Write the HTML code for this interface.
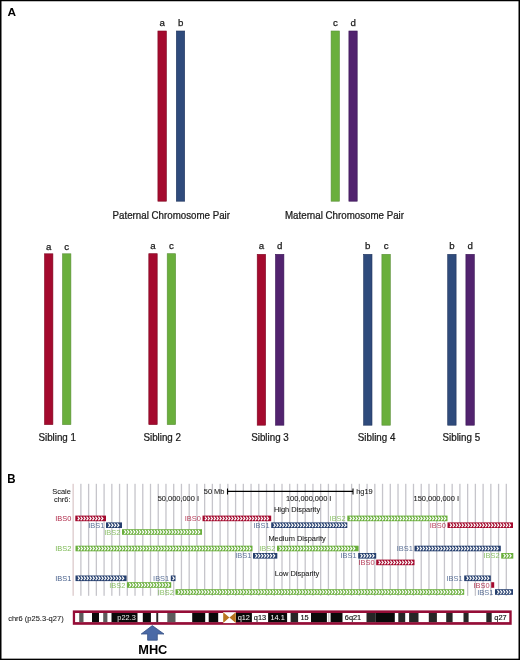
<!DOCTYPE html>
<html><head><meta charset="utf-8"><title>Figure</title>
<style>html,body{margin:0;padding:0;background:#fff;overflow:hidden}svg{display:block}text{font-family:"Liberation Sans",sans-serif}</style>
</head><body>
<svg width="520" height="660" viewBox="0 0 520 660">
<rect x="0" y="0" width="520" height="660" fill="#fff"/>
<rect x="0.75" y="0.5" width="518.5" height="658.9" fill="none" stroke="#000" stroke-width="1.5"/>
<text x="7.6" y="16.3" font-size="11.8" font-weight="bold" fill="#000">A</text>
<text x="7.3" y="482.6" font-size="12.2" font-weight="bold" fill="#000" textLength="8.3" lengthAdjust="spacingAndGlyphs">B</text>
<rect x="157.90" y="31.00" width="8.50" height="170.20" fill="#a40a2e" stroke="#7f0620" stroke-width="0.6"/>
<rect x="176.30" y="31.00" width="8.40" height="170.20" fill="#2f4b7c" stroke="#22365e" stroke-width="0.6"/>
<text x="162.3" y="25.9" font-size="9.7" text-anchor="middle" fill="#1a1a1a" stroke="#1a1a1a" stroke-width="0.25">a</text>
<text x="180.6" y="25.9" font-size="9.7" text-anchor="middle" fill="#1a1a1a" stroke="#1a1a1a" stroke-width="0.25">b</text>
<rect x="331.10" y="31.00" width="8.30" height="170.20" fill="#6aaf3c" stroke="#5a8f38" stroke-width="0.6"/>
<rect x="348.90" y="31.00" width="8.30" height="170.20" fill="#52236f" stroke="#3a1656" stroke-width="0.6"/>
<text x="335.3" y="25.9" font-size="9.7" text-anchor="middle" fill="#1a1a1a" stroke="#1a1a1a" stroke-width="0.25">c</text>
<text x="353.1" y="25.9" font-size="9.7" text-anchor="middle" fill="#1a1a1a" stroke="#1a1a1a" stroke-width="0.25">d</text>
<text transform="translate(171.3 218.6) scale(0.955 1)" font-size="10.2" text-anchor="middle" fill="#1a1a1a" stroke="#1a1a1a" stroke-width="0.25">Paternal Chromosome Pair</text>
<text transform="translate(344.5 218.6) scale(0.955 1)" font-size="10.2" text-anchor="middle" fill="#1a1a1a" stroke="#1a1a1a" stroke-width="0.25">Maternal Chromosome Pair</text>
<rect x="44.50" y="253.80" width="8.40" height="170.80" fill="#a40a2e" stroke="#7f0620" stroke-width="0.6"/>
<rect x="62.50" y="253.80" width="8.40" height="170.80" fill="#6aaf3c" stroke="#5a8f38" stroke-width="0.6"/>
<text x="48.7" y="249.5" font-size="9.7" text-anchor="middle" fill="#1a1a1a" stroke="#1a1a1a" stroke-width="0.25">a</text>
<text x="66.7" y="249.5" font-size="9.7" text-anchor="middle" fill="#1a1a1a" stroke="#1a1a1a" stroke-width="0.25">c</text>
<text transform="translate(57.2 441.4) scale(0.98 1)" font-size="10.0" text-anchor="middle" fill="#1a1a1a" stroke="#1a1a1a" stroke-width="0.25">Sibling 1</text>
<rect x="148.80" y="253.70" width="8.40" height="170.90" fill="#a40a2e" stroke="#7f0620" stroke-width="0.6"/>
<rect x="167.20" y="253.70" width="8.40" height="170.90" fill="#6aaf3c" stroke="#5a8f38" stroke-width="0.6"/>
<text x="153.0" y="249.3" font-size="9.7" text-anchor="middle" fill="#1a1a1a" stroke="#1a1a1a" stroke-width="0.25">a</text>
<text x="171.4" y="249.3" font-size="9.7" text-anchor="middle" fill="#1a1a1a" stroke="#1a1a1a" stroke-width="0.25">c</text>
<text transform="translate(162.2 441.4) scale(0.98 1)" font-size="10.0" text-anchor="middle" fill="#1a1a1a" stroke="#1a1a1a" stroke-width="0.25">Sibling 2</text>
<rect x="257.20" y="254.30" width="8.40" height="170.90" fill="#a40a2e" stroke="#7f0620" stroke-width="0.6"/>
<rect x="275.50" y="254.30" width="8.40" height="170.90" fill="#52236f" stroke="#3a1656" stroke-width="0.6"/>
<text x="261.4" y="249.2" font-size="9.7" text-anchor="middle" fill="#1a1a1a" stroke="#1a1a1a" stroke-width="0.25">a</text>
<text x="279.7" y="249.2" font-size="9.7" text-anchor="middle" fill="#1a1a1a" stroke="#1a1a1a" stroke-width="0.25">d</text>
<text transform="translate(270 441.4) scale(0.98 1)" font-size="10.0" text-anchor="middle" fill="#1a1a1a" stroke="#1a1a1a" stroke-width="0.25">Sibling 3</text>
<rect x="363.60" y="254.30" width="8.40" height="170.90" fill="#2f4b7c" stroke="#22365e" stroke-width="0.6"/>
<rect x="381.90" y="254.30" width="8.40" height="170.90" fill="#6aaf3c" stroke="#5a8f38" stroke-width="0.6"/>
<text x="367.8" y="249.2" font-size="9.7" text-anchor="middle" fill="#1a1a1a" stroke="#1a1a1a" stroke-width="0.25">b</text>
<text x="386.1" y="249.2" font-size="9.7" text-anchor="middle" fill="#1a1a1a" stroke="#1a1a1a" stroke-width="0.25">c</text>
<text transform="translate(376.6 441.4) scale(0.98 1)" font-size="10.0" text-anchor="middle" fill="#1a1a1a" stroke="#1a1a1a" stroke-width="0.25">Sibling 4</text>
<rect x="447.70" y="254.30" width="8.40" height="170.90" fill="#2f4b7c" stroke="#22365e" stroke-width="0.6"/>
<rect x="465.90" y="254.30" width="8.40" height="170.90" fill="#52236f" stroke="#3a1656" stroke-width="0.6"/>
<text x="451.9" y="249.2" font-size="9.7" text-anchor="middle" fill="#1a1a1a" stroke="#1a1a1a" stroke-width="0.25">b</text>
<text x="470.1" y="249.2" font-size="9.7" text-anchor="middle" fill="#1a1a1a" stroke="#1a1a1a" stroke-width="0.25">d</text>
<text transform="translate(461.3 441.4) scale(0.98 1)" font-size="10.0" text-anchor="middle" fill="#1a1a1a" stroke="#1a1a1a" stroke-width="0.25">Sibling 5</text>
<rect x="72.50" y="483.8" width="1.3" height="112" fill="#dccacb"/>
<rect x="80.23" y="483.8" width="1.3" height="112" fill="#c6c5cb"/>
<rect x="87.97" y="483.8" width="1.3" height="112" fill="#c6c5cb"/>
<rect x="95.70" y="483.8" width="1.3" height="112" fill="#c6c5cb"/>
<rect x="103.44" y="483.8" width="1.3" height="112" fill="#c6c5cb"/>
<rect x="111.18" y="483.8" width="1.3" height="112" fill="#c6c5cb"/>
<rect x="118.91" y="483.8" width="1.3" height="112" fill="#c6c5cb"/>
<rect x="126.65" y="483.8" width="1.3" height="112" fill="#c6c5cb"/>
<rect x="134.38" y="483.8" width="1.3" height="112" fill="#c6c5cb"/>
<rect x="142.12" y="483.8" width="1.3" height="112" fill="#c6c5cb"/>
<rect x="149.85" y="483.8" width="1.3" height="112" fill="#c6c5cb"/>
<rect x="157.59" y="483.8" width="1.3" height="112" fill="#c6c5cb"/>
<rect x="165.32" y="483.8" width="1.3" height="112" fill="#c6c5cb"/>
<rect x="173.06" y="483.8" width="1.3" height="112" fill="#c6c5cb"/>
<rect x="180.79" y="483.8" width="1.3" height="112" fill="#c6c5cb"/>
<rect x="188.53" y="483.8" width="1.3" height="112" fill="#c6c5cb"/>
<rect x="196.26" y="483.8" width="1.3" height="112" fill="#c6c5cb"/>
<rect x="204.00" y="483.8" width="1.3" height="112" fill="#c6c5cb"/>
<rect x="211.73" y="483.8" width="1.3" height="112" fill="#c6c5cb"/>
<rect x="219.47" y="483.8" width="1.3" height="112" fill="#c6c5cb"/>
<rect x="227.20" y="483.8" width="1.3" height="112" fill="#c6c5cb"/>
<rect x="234.94" y="483.8" width="1.3" height="112" fill="#c6c5cb"/>
<rect x="242.67" y="483.8" width="1.3" height="112" fill="#c6c5cb"/>
<rect x="250.41" y="483.8" width="1.3" height="112" fill="#c6c5cb"/>
<rect x="258.14" y="483.8" width="1.3" height="112" fill="#c6c5cb"/>
<rect x="265.88" y="483.8" width="1.3" height="112" fill="#c6c5cb"/>
<rect x="273.61" y="483.8" width="1.3" height="112" fill="#c6c5cb"/>
<rect x="281.35" y="483.8" width="1.3" height="112" fill="#c6c5cb"/>
<rect x="289.08" y="483.8" width="1.3" height="112" fill="#c6c5cb"/>
<rect x="296.82" y="483.8" width="1.3" height="112" fill="#c6c5cb"/>
<rect x="304.55" y="483.8" width="1.3" height="112" fill="#c6c5cb"/>
<rect x="312.29" y="483.8" width="1.3" height="112" fill="#c6c5cb"/>
<rect x="320.02" y="483.8" width="1.3" height="112" fill="#c6c5cb"/>
<rect x="327.76" y="483.8" width="1.3" height="112" fill="#c6c5cb"/>
<rect x="335.49" y="483.8" width="1.3" height="112" fill="#c6c5cb"/>
<rect x="343.23" y="483.8" width="1.3" height="112" fill="#c6c5cb"/>
<rect x="350.96" y="483.8" width="1.3" height="112" fill="#c6c5cb"/>
<rect x="358.70" y="483.8" width="1.3" height="112" fill="#c6c5cb"/>
<rect x="366.43" y="483.8" width="1.3" height="112" fill="#c6c5cb"/>
<rect x="374.17" y="483.8" width="1.3" height="112" fill="#c6c5cb"/>
<rect x="381.90" y="483.8" width="1.3" height="112" fill="#c6c5cb"/>
<rect x="389.63" y="483.8" width="1.3" height="112" fill="#c6c5cb"/>
<rect x="397.37" y="483.8" width="1.3" height="112" fill="#c6c5cb"/>
<rect x="405.11" y="483.8" width="1.3" height="112" fill="#c6c5cb"/>
<rect x="412.84" y="483.8" width="1.3" height="112" fill="#c6c5cb"/>
<rect x="420.58" y="483.8" width="1.3" height="112" fill="#c6c5cb"/>
<rect x="428.31" y="483.8" width="1.3" height="112" fill="#c6c5cb"/>
<rect x="436.05" y="483.8" width="1.3" height="112" fill="#c6c5cb"/>
<rect x="443.78" y="483.8" width="1.3" height="112" fill="#c6c5cb"/>
<rect x="451.52" y="483.8" width="1.3" height="112" fill="#c6c5cb"/>
<rect x="459.25" y="483.8" width="1.3" height="112" fill="#c6c5cb"/>
<rect x="466.99" y="483.8" width="1.3" height="112" fill="#c6c5cb"/>
<rect x="474.72" y="483.8" width="1.3" height="112" fill="#c6c5cb"/>
<rect x="482.46" y="483.8" width="1.3" height="112" fill="#c6c5cb"/>
<rect x="490.19" y="483.8" width="1.3" height="112" fill="#c6c5cb"/>
<rect x="497.93" y="483.8" width="1.3" height="112" fill="#c6c5cb"/>
<rect x="505.66" y="483.8" width="1.3" height="112" fill="#c6c5cb"/>
<text transform="translate(70.8 493.7) scale(0.943 1)" font-size="7.9" text-anchor="end" fill="#1a1a1a" stroke="#1a1a1a" stroke-width="0.08">Scale</text>
<text transform="translate(70.5 501.7) scale(0.943 1)" font-size="7.9" text-anchor="end" fill="#1a1a1a" stroke="#1a1a1a" stroke-width="0.08">chr6:</text>
<text transform="translate(224.4 493.5) scale(0.943 1)" font-size="7.9" text-anchor="end" fill="#1a1a1a" stroke="#1a1a1a" stroke-width="0.08">50 Mb</text>
<path d="M227.5 491.4H353M227.5 488.5V494.6M353 488.5V494.6" stroke="#000" stroke-width="1.1" fill="none"/>
<text transform="translate(356.2 493.5) scale(0.943 1)" font-size="7.9" text-anchor="start" fill="#1a1a1a" stroke="#1a1a1a" stroke-width="0.08">hg19</text>
<text transform="translate(199 501.4) scale(0.943 1)" font-size="7.9" text-anchor="end" fill="#1a1a1a" stroke="#1a1a1a" stroke-width="0.08">50,000,000 I</text>
<text transform="translate(331.4 501.2) scale(0.943 1)" font-size="7.9" text-anchor="end" fill="#1a1a1a" stroke="#1a1a1a" stroke-width="0.08">100,000,000 I</text>
<text transform="translate(459 501.2) scale(0.943 1)" font-size="7.9" text-anchor="end" fill="#1a1a1a" stroke="#1a1a1a" stroke-width="0.08">150,000,000 I</text>
<text transform="translate(297.0 511.7) scale(0.943 1)" font-size="7.9" text-anchor="middle" fill="#1a1a1a" stroke="#1a1a1a" stroke-width="0.08">High Disparity</text>
<text transform="translate(297.1 541.1) scale(0.943 1)" font-size="7.9" text-anchor="middle" fill="#1a1a1a" stroke="#1a1a1a" stroke-width="0.08">Medium Disparity</text>
<text transform="translate(297.0 576.0) scale(0.943 1)" font-size="7.9" text-anchor="middle" fill="#1a1a1a" stroke="#1a1a1a" stroke-width="0.08">Low Disparity</text>
<rect x="75.3" y="515.6" width="30.70" height="5.6" fill="#a40a2e"/>
<path d="M77.70 516.55l1.6 1.85l-1.6 1.85M80.65 516.55l1.6 1.85l-1.6 1.85M83.60 516.55l1.6 1.85l-1.6 1.85M86.55 516.55l1.6 1.85l-1.6 1.85M89.50 516.55l1.6 1.85l-1.6 1.85M92.45 516.55l1.6 1.85l-1.6 1.85M95.40 516.55l1.6 1.85l-1.6 1.85M98.35 516.55l1.6 1.85l-1.6 1.85M101.30 516.55l1.6 1.85l-1.6 1.85" stroke="#fff" stroke-width="1.2" fill="none"/>
<text transform="translate(71.4 521.0) scale(0.943 1)" font-size="7.9" text-anchor="end" fill="#a40a2e" opacity="0.88">IBS0</text>
<rect x="106" y="522.4" width="16.00" height="5.6" fill="#27406f"/>
<path d="M108.40 523.35l1.6 1.85l-1.6 1.85M111.35 523.35l1.6 1.85l-1.6 1.85M114.30 523.35l1.6 1.85l-1.6 1.85M117.25 523.35l1.6 1.85l-1.6 1.85" stroke="#fff" stroke-width="1.2" fill="none"/>
<text transform="translate(104.4 527.8) scale(0.943 1)" font-size="7.9" text-anchor="end" fill="#2f4b7c" opacity="0.78">IBS1</text>
<rect x="122" y="529.2" width="80.00" height="5.6" fill="#6aaf3c"/>
<path d="M124.40 530.15l1.6 1.85l-1.6 1.85M127.35 530.15l1.6 1.85l-1.6 1.85M130.30 530.15l1.6 1.85l-1.6 1.85M133.25 530.15l1.6 1.85l-1.6 1.85M136.20 530.15l1.6 1.85l-1.6 1.85M139.15 530.15l1.6 1.85l-1.6 1.85M142.10 530.15l1.6 1.85l-1.6 1.85M145.05 530.15l1.6 1.85l-1.6 1.85M148.00 530.15l1.6 1.85l-1.6 1.85M150.95 530.15l1.6 1.85l-1.6 1.85M153.90 530.15l1.6 1.85l-1.6 1.85M156.85 530.15l1.6 1.85l-1.6 1.85M159.80 530.15l1.6 1.85l-1.6 1.85M162.75 530.15l1.6 1.85l-1.6 1.85M165.70 530.15l1.6 1.85l-1.6 1.85M168.65 530.15l1.6 1.85l-1.6 1.85M171.60 530.15l1.6 1.85l-1.6 1.85M174.55 530.15l1.6 1.85l-1.6 1.85M177.50 530.15l1.6 1.85l-1.6 1.85M180.45 530.15l1.6 1.85l-1.6 1.85M183.40 530.15l1.6 1.85l-1.6 1.85M186.35 530.15l1.6 1.85l-1.6 1.85M189.30 530.15l1.6 1.85l-1.6 1.85M192.25 530.15l1.6 1.85l-1.6 1.85M195.20 530.15l1.6 1.85l-1.6 1.85M198.15 530.15l1.6 1.85l-1.6 1.85" stroke="#fff" stroke-width="1.2" fill="none"/>
<text transform="translate(120.4 534.6) scale(0.943 1)" font-size="7.9" text-anchor="end" fill="#6aaf3c" opacity="0.78">IBS2</text>
<rect x="202.5" y="515.6" width="68.70" height="5.6" fill="#a40a2e"/>
<path d="M204.90 516.55l1.6 1.85l-1.6 1.85M207.85 516.55l1.6 1.85l-1.6 1.85M210.80 516.55l1.6 1.85l-1.6 1.85M213.75 516.55l1.6 1.85l-1.6 1.85M216.70 516.55l1.6 1.85l-1.6 1.85M219.65 516.55l1.6 1.85l-1.6 1.85M222.60 516.55l1.6 1.85l-1.6 1.85M225.55 516.55l1.6 1.85l-1.6 1.85M228.50 516.55l1.6 1.85l-1.6 1.85M231.45 516.55l1.6 1.85l-1.6 1.85M234.40 516.55l1.6 1.85l-1.6 1.85M237.35 516.55l1.6 1.85l-1.6 1.85M240.30 516.55l1.6 1.85l-1.6 1.85M243.25 516.55l1.6 1.85l-1.6 1.85M246.20 516.55l1.6 1.85l-1.6 1.85M249.15 516.55l1.6 1.85l-1.6 1.85M252.10 516.55l1.6 1.85l-1.6 1.85M255.05 516.55l1.6 1.85l-1.6 1.85M258.00 516.55l1.6 1.85l-1.6 1.85M260.95 516.55l1.6 1.85l-1.6 1.85M263.90 516.55l1.6 1.85l-1.6 1.85M266.85 516.55l1.6 1.85l-1.6 1.85" stroke="#fff" stroke-width="1.2" fill="none"/>
<text transform="translate(200.9 521.0) scale(0.943 1)" font-size="7.9" text-anchor="end" fill="#a40a2e" opacity="0.78">IBS0</text>
<rect x="271.2" y="522.4" width="76.10" height="5.6" fill="#27406f"/>
<path d="M273.60 523.35l1.6 1.85l-1.6 1.85M276.55 523.35l1.6 1.85l-1.6 1.85M279.50 523.35l1.6 1.85l-1.6 1.85M282.45 523.35l1.6 1.85l-1.6 1.85M285.40 523.35l1.6 1.85l-1.6 1.85M288.35 523.35l1.6 1.85l-1.6 1.85M291.30 523.35l1.6 1.85l-1.6 1.85M294.25 523.35l1.6 1.85l-1.6 1.85M297.20 523.35l1.6 1.85l-1.6 1.85M300.15 523.35l1.6 1.85l-1.6 1.85M303.10 523.35l1.6 1.85l-1.6 1.85M306.05 523.35l1.6 1.85l-1.6 1.85M309.00 523.35l1.6 1.85l-1.6 1.85M311.95 523.35l1.6 1.85l-1.6 1.85M314.90 523.35l1.6 1.85l-1.6 1.85M317.85 523.35l1.6 1.85l-1.6 1.85M320.80 523.35l1.6 1.85l-1.6 1.85M323.75 523.35l1.6 1.85l-1.6 1.85M326.70 523.35l1.6 1.85l-1.6 1.85M329.65 523.35l1.6 1.85l-1.6 1.85M332.60 523.35l1.6 1.85l-1.6 1.85M335.55 523.35l1.6 1.85l-1.6 1.85M338.50 523.35l1.6 1.85l-1.6 1.85M341.45 523.35l1.6 1.85l-1.6 1.85M344.40 523.35l1.6 1.85l-1.6 1.85" stroke="#fff" stroke-width="1.2" fill="none"/>
<text transform="translate(269.59999999999997 527.8) scale(0.943 1)" font-size="7.9" text-anchor="end" fill="#2f4b7c" opacity="0.78">IBS1</text>
<rect x="347.3" y="515.6" width="100.20" height="5.6" fill="#6aaf3c"/>
<path d="M349.70 516.55l1.6 1.85l-1.6 1.85M352.65 516.55l1.6 1.85l-1.6 1.85M355.60 516.55l1.6 1.85l-1.6 1.85M358.55 516.55l1.6 1.85l-1.6 1.85M361.50 516.55l1.6 1.85l-1.6 1.85M364.45 516.55l1.6 1.85l-1.6 1.85M367.40 516.55l1.6 1.85l-1.6 1.85M370.35 516.55l1.6 1.85l-1.6 1.85M373.30 516.55l1.6 1.85l-1.6 1.85M376.25 516.55l1.6 1.85l-1.6 1.85M379.20 516.55l1.6 1.85l-1.6 1.85M382.15 516.55l1.6 1.85l-1.6 1.85M385.10 516.55l1.6 1.85l-1.6 1.85M388.05 516.55l1.6 1.85l-1.6 1.85M391.00 516.55l1.6 1.85l-1.6 1.85M393.95 516.55l1.6 1.85l-1.6 1.85M396.90 516.55l1.6 1.85l-1.6 1.85M399.85 516.55l1.6 1.85l-1.6 1.85M402.80 516.55l1.6 1.85l-1.6 1.85M405.75 516.55l1.6 1.85l-1.6 1.85M408.70 516.55l1.6 1.85l-1.6 1.85M411.65 516.55l1.6 1.85l-1.6 1.85M414.60 516.55l1.6 1.85l-1.6 1.85M417.55 516.55l1.6 1.85l-1.6 1.85M420.50 516.55l1.6 1.85l-1.6 1.85M423.45 516.55l1.6 1.85l-1.6 1.85M426.40 516.55l1.6 1.85l-1.6 1.85M429.35 516.55l1.6 1.85l-1.6 1.85M432.30 516.55l1.6 1.85l-1.6 1.85M435.25 516.55l1.6 1.85l-1.6 1.85M438.20 516.55l1.6 1.85l-1.6 1.85M441.15 516.55l1.6 1.85l-1.6 1.85M444.10 516.55l1.6 1.85l-1.6 1.85" stroke="#fff" stroke-width="1.2" fill="none"/>
<text transform="translate(345.7 521.0) scale(0.943 1)" font-size="7.9" text-anchor="end" fill="#6aaf3c" opacity="0.78">IBS2</text>
<rect x="447.5" y="522.4" width="65.50" height="5.6" fill="#a40a2e"/>
<path d="M449.90 523.35l1.6 1.85l-1.6 1.85M452.85 523.35l1.6 1.85l-1.6 1.85M455.80 523.35l1.6 1.85l-1.6 1.85M458.75 523.35l1.6 1.85l-1.6 1.85M461.70 523.35l1.6 1.85l-1.6 1.85M464.65 523.35l1.6 1.85l-1.6 1.85M467.60 523.35l1.6 1.85l-1.6 1.85M470.55 523.35l1.6 1.85l-1.6 1.85M473.50 523.35l1.6 1.85l-1.6 1.85M476.45 523.35l1.6 1.85l-1.6 1.85M479.40 523.35l1.6 1.85l-1.6 1.85M482.35 523.35l1.6 1.85l-1.6 1.85M485.30 523.35l1.6 1.85l-1.6 1.85M488.25 523.35l1.6 1.85l-1.6 1.85M491.20 523.35l1.6 1.85l-1.6 1.85M494.15 523.35l1.6 1.85l-1.6 1.85M497.10 523.35l1.6 1.85l-1.6 1.85M500.05 523.35l1.6 1.85l-1.6 1.85M503.00 523.35l1.6 1.85l-1.6 1.85M505.95 523.35l1.6 1.85l-1.6 1.85M508.90 523.35l1.6 1.85l-1.6 1.85" stroke="#fff" stroke-width="1.2" fill="none"/>
<text transform="translate(445.9 527.8) scale(0.943 1)" font-size="7.9" text-anchor="end" fill="#a40a2e" opacity="0.78">IBS0</text>
<rect x="75.5" y="545.7" width="177.00" height="5.6" fill="#6aaf3c"/>
<path d="M77.90 546.65l1.6 1.85l-1.6 1.85M80.85 546.65l1.6 1.85l-1.6 1.85M83.80 546.65l1.6 1.85l-1.6 1.85M86.75 546.65l1.6 1.85l-1.6 1.85M89.70 546.65l1.6 1.85l-1.6 1.85M92.65 546.65l1.6 1.85l-1.6 1.85M95.60 546.65l1.6 1.85l-1.6 1.85M98.55 546.65l1.6 1.85l-1.6 1.85M101.50 546.65l1.6 1.85l-1.6 1.85M104.45 546.65l1.6 1.85l-1.6 1.85M107.40 546.65l1.6 1.85l-1.6 1.85M110.35 546.65l1.6 1.85l-1.6 1.85M113.30 546.65l1.6 1.85l-1.6 1.85M116.25 546.65l1.6 1.85l-1.6 1.85M119.20 546.65l1.6 1.85l-1.6 1.85M122.15 546.65l1.6 1.85l-1.6 1.85M125.10 546.65l1.6 1.85l-1.6 1.85M128.05 546.65l1.6 1.85l-1.6 1.85M131.00 546.65l1.6 1.85l-1.6 1.85M133.95 546.65l1.6 1.85l-1.6 1.85M136.90 546.65l1.6 1.85l-1.6 1.85M139.85 546.65l1.6 1.85l-1.6 1.85M142.80 546.65l1.6 1.85l-1.6 1.85M145.75 546.65l1.6 1.85l-1.6 1.85M148.70 546.65l1.6 1.85l-1.6 1.85M151.65 546.65l1.6 1.85l-1.6 1.85M154.60 546.65l1.6 1.85l-1.6 1.85M157.55 546.65l1.6 1.85l-1.6 1.85M160.50 546.65l1.6 1.85l-1.6 1.85M163.45 546.65l1.6 1.85l-1.6 1.85M166.40 546.65l1.6 1.85l-1.6 1.85M169.35 546.65l1.6 1.85l-1.6 1.85M172.30 546.65l1.6 1.85l-1.6 1.85M175.25 546.65l1.6 1.85l-1.6 1.85M178.20 546.65l1.6 1.85l-1.6 1.85M181.15 546.65l1.6 1.85l-1.6 1.85M184.10 546.65l1.6 1.85l-1.6 1.85M187.05 546.65l1.6 1.85l-1.6 1.85M190.00 546.65l1.6 1.85l-1.6 1.85M192.95 546.65l1.6 1.85l-1.6 1.85M195.90 546.65l1.6 1.85l-1.6 1.85M198.85 546.65l1.6 1.85l-1.6 1.85M201.80 546.65l1.6 1.85l-1.6 1.85M204.75 546.65l1.6 1.85l-1.6 1.85M207.70 546.65l1.6 1.85l-1.6 1.85M210.65 546.65l1.6 1.85l-1.6 1.85M213.60 546.65l1.6 1.85l-1.6 1.85M216.55 546.65l1.6 1.85l-1.6 1.85M219.50 546.65l1.6 1.85l-1.6 1.85M222.45 546.65l1.6 1.85l-1.6 1.85M225.40 546.65l1.6 1.85l-1.6 1.85M228.35 546.65l1.6 1.85l-1.6 1.85M231.30 546.65l1.6 1.85l-1.6 1.85M234.25 546.65l1.6 1.85l-1.6 1.85M237.20 546.65l1.6 1.85l-1.6 1.85M240.15 546.65l1.6 1.85l-1.6 1.85M243.10 546.65l1.6 1.85l-1.6 1.85M246.05 546.65l1.6 1.85l-1.6 1.85M249.00 546.65l1.6 1.85l-1.6 1.85" stroke="#fff" stroke-width="1.2" fill="none"/>
<text transform="translate(71.4 551.1) scale(0.943 1)" font-size="7.9" text-anchor="end" fill="#6aaf3c" opacity="0.88">IBS2</text>
<rect x="253" y="553" width="24.30" height="5.6" fill="#27406f"/>
<path d="M255.40 553.95l1.6 1.85l-1.6 1.85M258.35 553.95l1.6 1.85l-1.6 1.85M261.30 553.95l1.6 1.85l-1.6 1.85M264.25 553.95l1.6 1.85l-1.6 1.85M267.20 553.95l1.6 1.85l-1.6 1.85M270.15 553.95l1.6 1.85l-1.6 1.85M273.10 553.95l1.6 1.85l-1.6 1.85" stroke="#fff" stroke-width="1.2" fill="none"/>
<text transform="translate(251.4 558.4) scale(0.943 1)" font-size="7.9" text-anchor="end" fill="#2f4b7c" opacity="0.78">IBS1</text>
<rect x="277" y="545.7" width="81.60" height="5.6" fill="#6aaf3c"/>
<path d="M279.40 546.65l1.6 1.85l-1.6 1.85M282.35 546.65l1.6 1.85l-1.6 1.85M285.30 546.65l1.6 1.85l-1.6 1.85M288.25 546.65l1.6 1.85l-1.6 1.85M291.20 546.65l1.6 1.85l-1.6 1.85M294.15 546.65l1.6 1.85l-1.6 1.85M297.10 546.65l1.6 1.85l-1.6 1.85M300.05 546.65l1.6 1.85l-1.6 1.85M303.00 546.65l1.6 1.85l-1.6 1.85M305.95 546.65l1.6 1.85l-1.6 1.85M308.90 546.65l1.6 1.85l-1.6 1.85M311.85 546.65l1.6 1.85l-1.6 1.85M314.80 546.65l1.6 1.85l-1.6 1.85M317.75 546.65l1.6 1.85l-1.6 1.85M320.70 546.65l1.6 1.85l-1.6 1.85M323.65 546.65l1.6 1.85l-1.6 1.85M326.60 546.65l1.6 1.85l-1.6 1.85M329.55 546.65l1.6 1.85l-1.6 1.85M332.50 546.65l1.6 1.85l-1.6 1.85M335.45 546.65l1.6 1.85l-1.6 1.85M338.40 546.65l1.6 1.85l-1.6 1.85M341.35 546.65l1.6 1.85l-1.6 1.85M344.30 546.65l1.6 1.85l-1.6 1.85M347.25 546.65l1.6 1.85l-1.6 1.85M350.20 546.65l1.6 1.85l-1.6 1.85M353.15 546.65l1.6 1.85l-1.6 1.85" stroke="#fff" stroke-width="1.2" fill="none"/>
<text transform="translate(275.4 551.1) scale(0.943 1)" font-size="7.9" text-anchor="end" fill="#6aaf3c" opacity="0.78">IBS2</text>
<rect x="358.2" y="553" width="18.00" height="5.6" fill="#27406f"/>
<path d="M360.60 553.95l1.6 1.85l-1.6 1.85M363.55 553.95l1.6 1.85l-1.6 1.85M366.50 553.95l1.6 1.85l-1.6 1.85M369.45 553.95l1.6 1.85l-1.6 1.85M372.40 553.95l1.6 1.85l-1.6 1.85" stroke="#fff" stroke-width="1.2" fill="none"/>
<text transform="translate(356.59999999999997 558.4) scale(0.943 1)" font-size="7.9" text-anchor="end" fill="#2f4b7c" opacity="0.78">IBS1</text>
<rect x="376.2" y="559.6" width="38.30" height="5.6" fill="#a40a2e"/>
<path d="M378.60 560.55l1.6 1.85l-1.6 1.85M381.55 560.55l1.6 1.85l-1.6 1.85M384.50 560.55l1.6 1.85l-1.6 1.85M387.45 560.55l1.6 1.85l-1.6 1.85M390.40 560.55l1.6 1.85l-1.6 1.85M393.35 560.55l1.6 1.85l-1.6 1.85M396.30 560.55l1.6 1.85l-1.6 1.85M399.25 560.55l1.6 1.85l-1.6 1.85M402.20 560.55l1.6 1.85l-1.6 1.85M405.15 560.55l1.6 1.85l-1.6 1.85M408.10 560.55l1.6 1.85l-1.6 1.85M411.05 560.55l1.6 1.85l-1.6 1.85" stroke="#fff" stroke-width="1.2" fill="none"/>
<text transform="translate(374.59999999999997 565.0) scale(0.943 1)" font-size="7.9" text-anchor="end" fill="#a40a2e" opacity="0.78">IBS0</text>
<rect x="414.5" y="545.7" width="86.30" height="5.6" fill="#27406f"/>
<path d="M416.90 546.65l1.6 1.85l-1.6 1.85M419.85 546.65l1.6 1.85l-1.6 1.85M422.80 546.65l1.6 1.85l-1.6 1.85M425.75 546.65l1.6 1.85l-1.6 1.85M428.70 546.65l1.6 1.85l-1.6 1.85M431.65 546.65l1.6 1.85l-1.6 1.85M434.60 546.65l1.6 1.85l-1.6 1.85M437.55 546.65l1.6 1.85l-1.6 1.85M440.50 546.65l1.6 1.85l-1.6 1.85M443.45 546.65l1.6 1.85l-1.6 1.85M446.40 546.65l1.6 1.85l-1.6 1.85M449.35 546.65l1.6 1.85l-1.6 1.85M452.30 546.65l1.6 1.85l-1.6 1.85M455.25 546.65l1.6 1.85l-1.6 1.85M458.20 546.65l1.6 1.85l-1.6 1.85M461.15 546.65l1.6 1.85l-1.6 1.85M464.10 546.65l1.6 1.85l-1.6 1.85M467.05 546.65l1.6 1.85l-1.6 1.85M470.00 546.65l1.6 1.85l-1.6 1.85M472.95 546.65l1.6 1.85l-1.6 1.85M475.90 546.65l1.6 1.85l-1.6 1.85M478.85 546.65l1.6 1.85l-1.6 1.85M481.80 546.65l1.6 1.85l-1.6 1.85M484.75 546.65l1.6 1.85l-1.6 1.85M487.70 546.65l1.6 1.85l-1.6 1.85M490.65 546.65l1.6 1.85l-1.6 1.85M493.60 546.65l1.6 1.85l-1.6 1.85M496.55 546.65l1.6 1.85l-1.6 1.85" stroke="#fff" stroke-width="1.2" fill="none"/>
<text transform="translate(412.9 551.1) scale(0.943 1)" font-size="7.9" text-anchor="end" fill="#2f4b7c" opacity="0.78">IBS1</text>
<rect x="501.2" y="553" width="12.10" height="5.6" fill="#6aaf3c"/>
<path d="M503.60 553.95l1.6 1.85l-1.6 1.85M506.55 553.95l1.6 1.85l-1.6 1.85M509.50 553.95l1.6 1.85l-1.6 1.85" stroke="#fff" stroke-width="1.2" fill="none"/>
<text transform="translate(499.59999999999997 558.4) scale(0.943 1)" font-size="7.9" text-anchor="end" fill="#6aaf3c" opacity="0.78">IBS2</text>
<rect x="75.5" y="575.5" width="51.10" height="5.6" fill="#27406f"/>
<path d="M77.90 576.45l1.6 1.85l-1.6 1.85M80.85 576.45l1.6 1.85l-1.6 1.85M83.80 576.45l1.6 1.85l-1.6 1.85M86.75 576.45l1.6 1.85l-1.6 1.85M89.70 576.45l1.6 1.85l-1.6 1.85M92.65 576.45l1.6 1.85l-1.6 1.85M95.60 576.45l1.6 1.85l-1.6 1.85M98.55 576.45l1.6 1.85l-1.6 1.85M101.50 576.45l1.6 1.85l-1.6 1.85M104.45 576.45l1.6 1.85l-1.6 1.85M107.40 576.45l1.6 1.85l-1.6 1.85M110.35 576.45l1.6 1.85l-1.6 1.85M113.30 576.45l1.6 1.85l-1.6 1.85M116.25 576.45l1.6 1.85l-1.6 1.85M119.20 576.45l1.6 1.85l-1.6 1.85M122.15 576.45l1.6 1.85l-1.6 1.85" stroke="#fff" stroke-width="1.2" fill="none"/>
<text transform="translate(71.4 580.9) scale(0.943 1)" font-size="7.9" text-anchor="end" fill="#2f4b7c" opacity="0.88">IBS1</text>
<rect x="127" y="582.2" width="44.20" height="5.6" fill="#6aaf3c"/>
<path d="M129.40 583.15l1.6 1.85l-1.6 1.85M132.35 583.15l1.6 1.85l-1.6 1.85M135.30 583.15l1.6 1.85l-1.6 1.85M138.25 583.15l1.6 1.85l-1.6 1.85M141.20 583.15l1.6 1.85l-1.6 1.85M144.15 583.15l1.6 1.85l-1.6 1.85M147.10 583.15l1.6 1.85l-1.6 1.85M150.05 583.15l1.6 1.85l-1.6 1.85M153.00 583.15l1.6 1.85l-1.6 1.85M155.95 583.15l1.6 1.85l-1.6 1.85M158.90 583.15l1.6 1.85l-1.6 1.85M161.85 583.15l1.6 1.85l-1.6 1.85M164.80 583.15l1.6 1.85l-1.6 1.85M167.75 583.15l1.6 1.85l-1.6 1.85" stroke="#fff" stroke-width="1.2" fill="none"/>
<text transform="translate(125.4 587.6) scale(0.943 1)" font-size="7.9" text-anchor="end" fill="#6aaf3c" opacity="0.78">IBS2</text>
<rect x="170.8" y="575.5" width="4.70" height="5.6" fill="#27406f"/>
<path d="M172.55 576.45l1.6 1.85l-1.6 1.85" stroke="#fff" stroke-width="1.2" fill="none"/>
<text transform="translate(169.20000000000002 580.9) scale(0.943 1)" font-size="7.9" text-anchor="end" fill="#2f4b7c" opacity="0.78">IBS1</text>
<rect x="175.5" y="589.2" width="288.70" height="5.6" fill="#6aaf3c"/>
<path d="M177.90 590.15l1.6 1.85l-1.6 1.85M180.85 590.15l1.6 1.85l-1.6 1.85M183.80 590.15l1.6 1.85l-1.6 1.85M186.75 590.15l1.6 1.85l-1.6 1.85M189.70 590.15l1.6 1.85l-1.6 1.85M192.65 590.15l1.6 1.85l-1.6 1.85M195.60 590.15l1.6 1.85l-1.6 1.85M198.55 590.15l1.6 1.85l-1.6 1.85M201.50 590.15l1.6 1.85l-1.6 1.85M204.45 590.15l1.6 1.85l-1.6 1.85M207.40 590.15l1.6 1.85l-1.6 1.85M210.35 590.15l1.6 1.85l-1.6 1.85M213.30 590.15l1.6 1.85l-1.6 1.85M216.25 590.15l1.6 1.85l-1.6 1.85M219.20 590.15l1.6 1.85l-1.6 1.85M222.15 590.15l1.6 1.85l-1.6 1.85M225.10 590.15l1.6 1.85l-1.6 1.85M228.05 590.15l1.6 1.85l-1.6 1.85M231.00 590.15l1.6 1.85l-1.6 1.85M233.95 590.15l1.6 1.85l-1.6 1.85M236.90 590.15l1.6 1.85l-1.6 1.85M239.85 590.15l1.6 1.85l-1.6 1.85M242.80 590.15l1.6 1.85l-1.6 1.85M245.75 590.15l1.6 1.85l-1.6 1.85M248.70 590.15l1.6 1.85l-1.6 1.85M251.65 590.15l1.6 1.85l-1.6 1.85M254.60 590.15l1.6 1.85l-1.6 1.85M257.55 590.15l1.6 1.85l-1.6 1.85M260.50 590.15l1.6 1.85l-1.6 1.85M263.45 590.15l1.6 1.85l-1.6 1.85M266.40 590.15l1.6 1.85l-1.6 1.85M269.35 590.15l1.6 1.85l-1.6 1.85M272.30 590.15l1.6 1.85l-1.6 1.85M275.25 590.15l1.6 1.85l-1.6 1.85M278.20 590.15l1.6 1.85l-1.6 1.85M281.15 590.15l1.6 1.85l-1.6 1.85M284.10 590.15l1.6 1.85l-1.6 1.85M287.05 590.15l1.6 1.85l-1.6 1.85M290.00 590.15l1.6 1.85l-1.6 1.85M292.95 590.15l1.6 1.85l-1.6 1.85M295.90 590.15l1.6 1.85l-1.6 1.85M298.85 590.15l1.6 1.85l-1.6 1.85M301.80 590.15l1.6 1.85l-1.6 1.85M304.75 590.15l1.6 1.85l-1.6 1.85M307.70 590.15l1.6 1.85l-1.6 1.85M310.65 590.15l1.6 1.85l-1.6 1.85M313.60 590.15l1.6 1.85l-1.6 1.85M316.55 590.15l1.6 1.85l-1.6 1.85M319.50 590.15l1.6 1.85l-1.6 1.85M322.45 590.15l1.6 1.85l-1.6 1.85M325.40 590.15l1.6 1.85l-1.6 1.85M328.35 590.15l1.6 1.85l-1.6 1.85M331.30 590.15l1.6 1.85l-1.6 1.85M334.25 590.15l1.6 1.85l-1.6 1.85M337.20 590.15l1.6 1.85l-1.6 1.85M340.15 590.15l1.6 1.85l-1.6 1.85M343.10 590.15l1.6 1.85l-1.6 1.85M346.05 590.15l1.6 1.85l-1.6 1.85M349.00 590.15l1.6 1.85l-1.6 1.85M351.95 590.15l1.6 1.85l-1.6 1.85M354.90 590.15l1.6 1.85l-1.6 1.85M357.85 590.15l1.6 1.85l-1.6 1.85M360.80 590.15l1.6 1.85l-1.6 1.85M363.75 590.15l1.6 1.85l-1.6 1.85M366.70 590.15l1.6 1.85l-1.6 1.85M369.65 590.15l1.6 1.85l-1.6 1.85M372.60 590.15l1.6 1.85l-1.6 1.85M375.55 590.15l1.6 1.85l-1.6 1.85M378.50 590.15l1.6 1.85l-1.6 1.85M381.45 590.15l1.6 1.85l-1.6 1.85M384.40 590.15l1.6 1.85l-1.6 1.85M387.35 590.15l1.6 1.85l-1.6 1.85M390.30 590.15l1.6 1.85l-1.6 1.85M393.25 590.15l1.6 1.85l-1.6 1.85M396.20 590.15l1.6 1.85l-1.6 1.85M399.15 590.15l1.6 1.85l-1.6 1.85M402.10 590.15l1.6 1.85l-1.6 1.85M405.05 590.15l1.6 1.85l-1.6 1.85M408.00 590.15l1.6 1.85l-1.6 1.85M410.95 590.15l1.6 1.85l-1.6 1.85M413.90 590.15l1.6 1.85l-1.6 1.85M416.85 590.15l1.6 1.85l-1.6 1.85M419.80 590.15l1.6 1.85l-1.6 1.85M422.75 590.15l1.6 1.85l-1.6 1.85M425.70 590.15l1.6 1.85l-1.6 1.85M428.65 590.15l1.6 1.85l-1.6 1.85M431.60 590.15l1.6 1.85l-1.6 1.85M434.55 590.15l1.6 1.85l-1.6 1.85M437.50 590.15l1.6 1.85l-1.6 1.85M440.45 590.15l1.6 1.85l-1.6 1.85M443.40 590.15l1.6 1.85l-1.6 1.85M446.35 590.15l1.6 1.85l-1.6 1.85M449.30 590.15l1.6 1.85l-1.6 1.85M452.25 590.15l1.6 1.85l-1.6 1.85M455.20 590.15l1.6 1.85l-1.6 1.85M458.15 590.15l1.6 1.85l-1.6 1.85M461.10 590.15l1.6 1.85l-1.6 1.85" stroke="#fff" stroke-width="1.2" fill="none"/>
<text transform="translate(173.9 594.6) scale(0.943 1)" font-size="7.9" text-anchor="end" fill="#6aaf3c" opacity="0.78">IBS2</text>
<rect x="464.2" y="575.5" width="26.60" height="5.6" fill="#27406f"/>
<path d="M466.60 576.45l1.6 1.85l-1.6 1.85M469.55 576.45l1.6 1.85l-1.6 1.85M472.50 576.45l1.6 1.85l-1.6 1.85M475.45 576.45l1.6 1.85l-1.6 1.85M478.40 576.45l1.6 1.85l-1.6 1.85M481.35 576.45l1.6 1.85l-1.6 1.85M484.30 576.45l1.6 1.85l-1.6 1.85M487.25 576.45l1.6 1.85l-1.6 1.85" stroke="#fff" stroke-width="1.2" fill="none"/>
<text transform="translate(462.59999999999997 580.9) scale(0.943 1)" font-size="7.9" text-anchor="end" fill="#2f4b7c" opacity="0.78">IBS1</text>
<rect x="491.2" y="582.2" width="3.00" height="5.6" fill="#a40a2e"/>
<text transform="translate(489.59999999999997 587.6) scale(0.943 1)" font-size="7.9" text-anchor="end" fill="#a40a2e" opacity="0.78">IBS0</text>
<rect x="495" y="589.2" width="18.00" height="5.6" fill="#27406f"/>
<path d="M497.40 590.15l1.6 1.85l-1.6 1.85M500.35 590.15l1.6 1.85l-1.6 1.85M503.30 590.15l1.6 1.85l-1.6 1.85M506.25 590.15l1.6 1.85l-1.6 1.85M509.20 590.15l1.6 1.85l-1.6 1.85" stroke="#fff" stroke-width="1.2" fill="none"/>
<text transform="translate(493.4 594.6) scale(0.943 1)" font-size="7.9" text-anchor="end" fill="#2f4b7c" opacity="0.78">IBS1</text>
<text x="8.2" y="620.8" font-size="7.5" text-anchor="start" fill="#1a1a1a" stroke="#1a1a1a" stroke-width="0.08">chr6 (p25.3-q27)</text>
<rect x="72.8" y="610.4" width="438.9" height="14.4" fill="#950d37"/>
<rect x="75.1" y="613.0" width="434.2" height="9.1" fill="#fff"/>
<rect x="79.2" y="613.0" width="4.30" height="9.1" fill="#5c5c5c"/>
<rect x="92" y="613.0" width="7.00" height="9.1" fill="#0a0a0a"/>
<rect x="103.2" y="613.0" width="4.20" height="9.1" fill="#5c5c5c"/>
<rect x="111.5" y="613.0" width="26.00" height="9.1" fill="#0a0a0a"/>
<rect x="142.8" y="613.0" width="8.10" height="9.1" fill="#0a0a0a"/>
<rect x="156.3" y="613.0" width="1.90" height="9.1" fill="#262626"/>
<rect x="167.3" y="613.0" width="8.20" height="9.1" fill="#5c5c5c"/>
<rect x="192.2" y="613.0" width="13.00" height="9.1" fill="#0a0a0a"/>
<rect x="208.7" y="613.0" width="9.50" height="9.1" fill="#0a0a0a"/>
<rect x="235.8" y="613.0" width="16.10" height="9.1" fill="#0a0a0a"/>
<rect x="268.1" y="613.0" width="19.00" height="9.1" fill="#0a0a0a"/>
<rect x="290.6" y="613.0" width="7.50" height="9.1" fill="#262626"/>
<rect x="311" y="613.0" width="15.90" height="9.1" fill="#0a0a0a"/>
<rect x="328.3" y="613.0" width="1.00" height="9.1" fill="#bdbdbd"/>
<rect x="330.6" y="613.0" width="11.90" height="9.1" fill="#0a0a0a"/>
<rect x="366.5" y="613.0" width="9.30" height="9.1" fill="#262626"/>
<rect x="375.8" y="613.0" width="19.00" height="9.1" fill="#0a0a0a"/>
<rect x="398.3" y="613.0" width="6.90" height="9.1" fill="#262626"/>
<rect x="409.1" y="613.0" width="9.40" height="9.1" fill="#262626"/>
<rect x="428.8" y="613.0" width="8.10" height="9.1" fill="#262626"/>
<rect x="446.2" y="613.0" width="6.40" height="9.1" fill="#262626"/>
<rect x="463.5" y="613.0" width="5.10" height="9.1" fill="#262626"/>
<rect x="486.3" y="613.0" width="5.40" height="9.1" fill="#262626"/>
<rect x="223" y="612.2" width="13" height="10.9" fill="#fff"/>
<path d="M223.2 612.3L229.4 617.6L223.2 623ZM235.8 612.3L229.4 617.6L235.8 623Z" fill="#b8751f"/>
<text x="126.6" y="620.3" font-size="7.4" text-anchor="middle" fill="#eee">p22.3</text>
<text x="243.8" y="620.3" font-size="7.4" text-anchor="middle" fill="#fff">q12</text>
<text x="260" y="620.3" font-size="7.4" text-anchor="middle" fill="#111" stroke="#111" stroke-width="0.15">q13</text>
<text x="277.6" y="620.3" font-size="7.4" text-anchor="middle" fill="#fff">14.1</text>
<text x="304.5" y="620.3" font-size="7.4" text-anchor="middle" fill="#111" stroke="#111" stroke-width="0.15">15</text>
<text x="353" y="620.3" font-size="7.4" text-anchor="middle" fill="#111" stroke="#111" stroke-width="0.15">6q21</text>
<text x="500.5" y="620.3" font-size="7.4" text-anchor="middle" fill="#111" stroke="#111" stroke-width="0.15">q27</text>
<path d="M152.3 625.6L164 634H157.3V640.2H147.6V634H141.2Z" fill="#4a69a6" stroke="#3a5487" stroke-width="0.8" stroke-linejoin="miter"/>
<text x="152.8" y="653.7" font-size="12.8" font-weight="bold" text-anchor="middle" fill="#000">MHC</text>
</svg></body></html>
